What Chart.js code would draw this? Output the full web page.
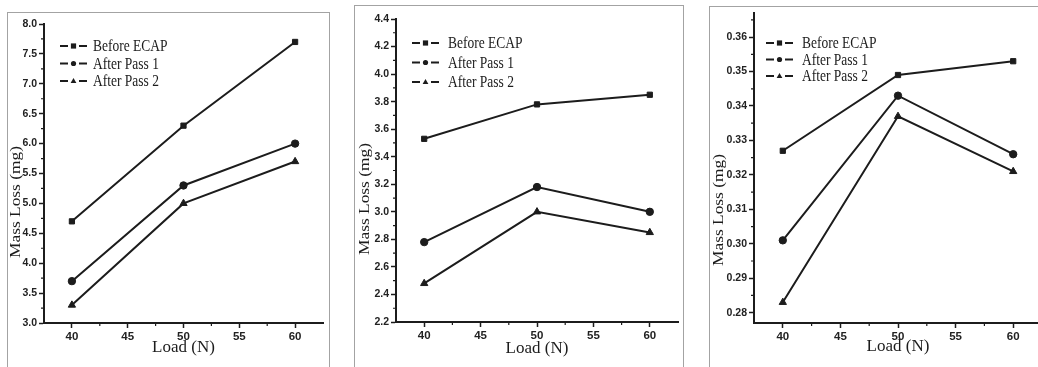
<!DOCTYPE html>
<html>
<head>
<meta charset="utf-8">
<script src="https://cdn.jsdelivr.net/npm/chart.js@4.4.1/dist/chart.umd.min.js"></script>
<style>
  body { margin: 0; width: 1038px; height: 367px; overflow: hidden; background: #fff; position: relative; }
  .frame { position: absolute; border: 1.5px solid #a3a3a3; border-bottom: none; height: 400px; }
  canvas { position: absolute; top: 0; }
</style>
</head>
<body>
<div class="frame" style="left:7px; top:12px; width:321px;"></div>
<div class="frame" style="left:354px; top:5px; width:328px;"></div>
<div class="frame" style="left:709px; top:6px; width:340px;"></div>
<canvas id="panelA" width="346" height="367" style="left:0px"></canvas>
<canvas id="panelB" width="346" height="367" style="left:346px"></canvas>
<canvas id="panelC" width="360" height="367" style="left:692px"></canvas>
<script>
const loads = [40, 50, 60];
const seriesNames = ["Before ECAP", "After Pass 1", "After Pass 2"];
const markerStyles = ["rect", "circle", "triangle"];
const xTicks = [40, 45, 50, 55, 60];

// left panel
const beforeA = [4.7, 6.3, 7.7];
const pass1A = [3.7, 5.3, 6.0];
const pass2A = [3.3, 5.0, 5.7];
const yTicksA = [3.0, 3.5, 4.0, 4.5, 5.0, 5.5, 6.0, 6.5, 7.0, 7.5, 8.0];

// middle panel
const beforeB = [3.53, 3.78, 3.85];
const pass1B = [2.78, 3.18, 3.00];
const pass2B = [2.48, 3.00, 2.85];
const yTicksB = [2.2, 2.4, 2.6, 2.8, 3.0, 3.2, 3.4, 3.6, 3.8, 4.0, 4.2, 4.4];

// right panel
const beforeC = [0.327, 0.349, 0.353];
const pass1C = [0.301, 0.343, 0.326];
const pass2C = [0.283, 0.337, 0.321];
const yTicksC = [0.28, 0.29, 0.30, 0.31, 0.32, 0.33, 0.34, 0.35, 0.36];

const ink = "#1c1c1c";
const narrow = "'Liberation Sans Narrow', 'Liberation Sans', sans-serif";
const serif = "'Liberation Serif', 'Times New Roman', serif";

// midpoints between major ticks (plus one beyond each end if it is still on the axis)
function minorOf(ticks, min, max) {
  const step = ticks[1] - ticks[0];
  const out = [];
  for (let i = -1; i < ticks.length; i++) {
    const v = ticks[0] + step * (i + 0.5);
    if (v > min + 1e-9 && v < max - 1e-9) out.push(v);
  }
  return out;
}

function drawMarker(ctx, style, x, y, r) {
  ctx.beginPath();
  if (style === "rect") {
    ctx.rect(x - r, y - r, 2 * r, 2 * r);
  } else if (style === "circle") {
    ctx.arc(x, y, r, 0, Math.PI * 2);
  } else {
    ctx.moveTo(x, y - r * 1.2);
    ctx.lineTo(x + r * 1.1, y + r * 0.8);
    ctx.lineTo(x - r * 1.1, y + r * 0.8);
    ctx.closePath();
  }
  ctx.fill();
}

// minor ticks, y axis title and the in-plot legend
const extras = {
  id: "extras",
  afterDraw(chart, args, opts) {
    const ctx = chart.ctx;
    const xs = chart.scales.x, ys = chart.scales.y;
    ctx.save();
    ctx.strokeStyle = ink;
    ctx.fillStyle = ink;
    ctx.lineWidth = 1.2;
    ctx.beginPath();
    minorOf(xTicks, xs.min, xs.max).forEach(v => {
      const px = xs.getPixelForValue(v);
      ctx.moveTo(px, xs.top);
      ctx.lineTo(px, xs.top + 3);
    });
    minorOf(opts.yTicks, ys.min, ys.max).forEach(v => {
      const py = ys.getPixelForValue(v);
      ctx.moveTo(ys.right, py);
      ctx.lineTo(ys.right - 3, py);
    });
    ctx.stroke();

    // the figure is stretched vertically, so the rotated title is drawn long and thin
    ctx.save();
    ctx.translate(opts.titleX, opts.titleY);
    ctx.rotate(-Math.PI / 2);
    ctx.scale(1.2, 1);
    ctx.font = "14.5px " + serif;
    ctx.textAlign = "center";
    ctx.textBaseline = "middle";
    ctx.fillText("Mass Loss (mg)", 0, 0);
    ctx.restore();

    ctx.font = "13.5px " + serif;
    ctx.textAlign = "left";
    ctx.textBaseline = "middle";
    ctx.lineWidth = 2;
    chart.data.datasets.forEach((ds, i) => {
      const lx = opts.legendX, ly = opts.legendY + i * opts.legendGap;
      ctx.beginPath();
      ctx.moveTo(lx, ly); ctx.lineTo(lx + 8, ly);
      ctx.moveTo(lx + 19, ly); ctx.lineTo(lx + 27, ly);
      ctx.stroke();
      drawMarker(ctx, ds.pointStyle, lx + 13.5, ly, 2.6);
      ctx.save();
      ctx.translate(lx + opts.textGap, ly + 1);
      ctx.scale(1, 1.2);
      ctx.fillText(ds.label, 0, 0);
      ctx.restore();
    });
    ctx.restore();
  }
};

function makePanel(id, series, yTicks, yMin, yMax, digits, box) {
  return new Chart(document.getElementById(id), {
    type: "line",
    plugins: [extras],
    data: {
      datasets: series.map((vals, i) => ({
        label: seriesNames[i],
        data: loads.map((l, j) => ({ x: l, y: vals[j] })),
        borderColor: ink,
        backgroundColor: ink,
        borderWidth: 2,
        pointStyle: markerStyles[i],
        pointRadius: i === 2 ? 4.2 : 3.7,
        pointBorderWidth: 1,
        tension: 0
      }))
    },
    options: {
      responsive: false,
      animation: false,
      layout: { padding: { left: 0, right: box.right, top: box.top, bottom: 0 } },
      plugins: {
        legend: { display: false },
        tooltip: { enabled: false },
        extras: {
          yTicks: yTicks,
          titleX: box.titleX, titleY: box.titleY,
          legendX: box.legendX, legendY: box.legendY, legendGap: box.legendGap, textGap: box.textGap
        }
      },
      scales: {
        x: {
          type: "linear",
          min: 37.5,
          max: 62.5,
          afterBuildTicks: s => { s.ticks = xTicks.map(v => ({ value: v })); },
          afterFit: s => { s.height = box.xh; },
          grid: { drawOnChartArea: false, drawTicks: true, tickLength: 5, tickColor: ink, tickWidth: 1.5 },
          border: { display: true, color: ink, width: 2 },
          ticks: { color: "#222", font: { family: narrow, size: 11.5, weight: "bold" }, padding: 2, maxRotation: 0 },
          title: { display: true, text: "Load (N)", color: ink, font: { family: serif, size: 17 }, padding: { top: 0, bottom: box.xTitlePad } }
        },
        y: {
          min: yMin,
          max: yMax,
          afterBuildTicks: s => { s.ticks = yTicks.map(v => ({ value: v })); },
          afterFit: s => { s.width = box.yw; },
          grid: { drawOnChartArea: false, drawTicks: true, tickLength: 5, tickColor: ink, tickWidth: 1.5 },
          border: { display: true, color: ink, width: 2 },
          ticks: { color: "#222", font: { family: narrow, size: 10.5, weight: "bold" }, padding: 2, callback: v => Number(v).toFixed(digits) }
        }
      }
    }
  });
}

makePanel("panelA", [beforeA, pass1A, pass2A], yTicksA, 3.0, 8.0, 1,
  { yw: 44, xh: 44, right: 23, top: 24, xTitlePad: 9, titleX: 16.5, titleY: 202,
    legendX: 60, legendY: 46, legendGap: 17.5, textGap: 33 });
makePanel("panelB", [beforeB, pass1B, pass2B], yTicksB, 2.2, 4.4, 1,
  { yw: 50, xh: 45, right: 14, top: 19, xTitlePad: 8, titleX: 19, titleY: 199,
    legendX: 66, legendY: 43, legendGap: 19.5, textGap: 36 });
makePanel("panelC", [beforeC, pass1C, pass2C], yTicksC, 0.277, 0.367, 2,
  { yw: 62, xh: 44, right: 10, top: 13, xTitlePad: 10, titleX: 27.5, titleY: 210,
    legendX: 74, legendY: 43, legendGap: 16.5, textGap: 36 });
</script>
</body>
</html>
